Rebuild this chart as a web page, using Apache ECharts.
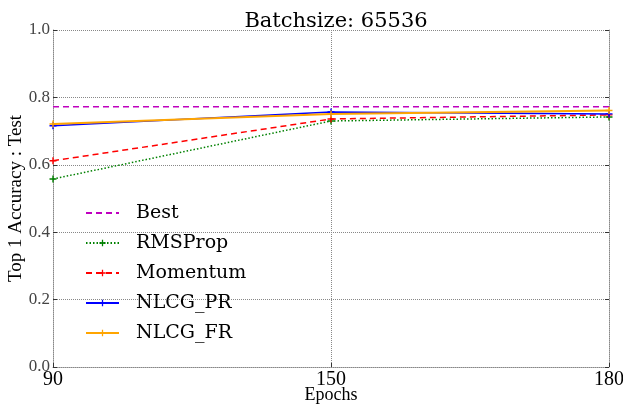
<!DOCTYPE html>
<html>
<head>
<meta charset="utf-8">
<script src="https://cdn.jsdelivr.net/npm/echarts@6/dist/echarts.min.js"></script>
<style>
html,body{margin:0;padding:0;background:#fff;}
#chart{width:623px;height:406px;}
</style>
</head>
<body>
<div id="chart"></div>
<script>
const epochs = ['90', '150', '180'];
const best = [0.772, 0.772, 0.772];
const rmsprop = [0.558, 0.730, 0.742];
const momentum = [0.612, 0.736, 0.748];
const nlcgPR = [0.716, 0.757, 0.751];
const nlcgFR = [0.721, 0.751, 0.761];
const yTicks = [0, 0.2, 0.4, 0.6, 0.8, 1.0];

const FONT = 'Liberation Serif';
const FONT2 = 'DejaVu Serif';
const plus = 'path://M4,0h2v4h4v2h-4v4h-2v-4h-4v-2h4z';

function mk(name, data, color, type, width, sym) {
  return {
    name: name, type: 'line', data: data,
    symbol: sym ? plus : 'none', symbolSize: 7,
    showSymbol: !!sym,
    lineStyle: {color: color, type: type, width: width},
    itemStyle: {color: color},
    emphasis: {disabled: true},
    animation: false
  };
}

const chart = echarts.init(document.getElementById('chart'), null, {renderer: 'canvas'});
chart.setOption({
  backgroundColor: '#fff',
  animation: false,
  title: {
    text: 'Batchsize: 65536', left: 331, top: 6, textAlign: 'center',
    textStyle: {fontFamily: FONT2, fontSize: 21, fontWeight: 'normal', color: '#000'}
  },
  grid: {left: 53, right: 14, top: 30, bottom: 39, outerBoundsMode: 'none', containLabel: false},
  legend: {
    orient: 'vertical', left: 80, top: 198, itemWidth: 33, itemHeight: 8, itemGap: 10,
    textStyle: {fontFamily: FONT2, fontSize: 19, color: '#000', padding: [0, 0, 0, 12], lineHeight: 20},
    data: [
      {name: 'Best', itemStyle: {color: 'transparent'}},
      {name: 'RMSProp'}, {name: 'Momentum'}, {name: 'NLCG_PR'}, {name: 'NLCG_FR'}
    ]
  },
  xAxis: {
    type: 'category', data: epochs, boundaryGap: false,
    name: 'Epochs', nameLocation: 'middle', nameGap: 19, nameMoveOverlap: false,
    nameTextStyle: {fontFamily: FONT, fontSize: 18, color: '#000'},
    axisLine: {lineStyle: {color: '#888', type: 'dotted', width: 1}},
    axisTick: {show: true, inside: true, length: 4, lineStyle: {color: '#333'}},
    axisLabel: {fontFamily: FONT, fontSize: 20, color: '#000', margin: 3},
    splitLine: {show: true, lineStyle: {color: '#888', type: 'dotted', width: 1}}
  },
  yAxis: [{
    type: 'value', min: 0, max: 1, interval: 0.2,
    name: 'Top 1 Accuracy : Test', nameLocation: 'middle', nameGap: 27, nameMoveOverlap: false,
    nameTextStyle: {fontFamily: FONT, fontSize: 19, color: '#000'},
    axisLine: {show: true, lineStyle: {color: '#888', type: 'dotted', width: 1}},
    axisTick: {show: true, inside: true, length: 4, lineStyle: {color: '#333'}},
    axisLabel: {fontFamily: FONT, fontSize: 17, color: '#444', margin: 3,
      formatter: v => v.toFixed(1)},
    splitLine: {show: true, lineStyle: {color: '#888', type: 'dotted', width: 1}}
  }, {
    type: 'value', min: 0, max: 1, interval: 0.2, position: 'right',
    axisLine: {show: true, lineStyle: {color: '#888', type: 'dotted', width: 1}},
    axisTick: {show: true, inside: true, length: 4, lineStyle: {color: '#333'}},
    axisLabel: {show: false}, splitLine: {show: false}
  }],
  series: [
    mk('Best', best, '#bf00bf', [6, 4], 1.5, false),
    mk('RMSProp', rmsprop, '#008000', [1.5, 2], 1.5, true),
    mk('Momentum', momentum, '#ff0000', [6, 4], 1.5, true),
    mk('NLCG_PR', nlcgPR, '#0000ff', 'solid', 1.5, true),
    mk('NLCG_FR', nlcgFR, '#ffa500', 'solid', 2, true)
  ]
});
</script>
</body>
</html>
